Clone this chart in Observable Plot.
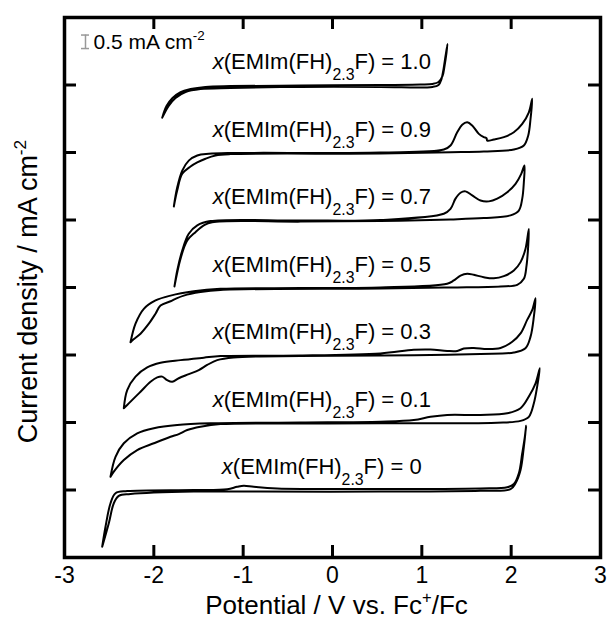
<!DOCTYPE html>
<html><head><meta charset="utf-8">
<script src="https://cdn.jsdelivr.net/npm/d3@7"></script>
<script src="https://cdn.jsdelivr.net/npm/@observablehq/plot@0.6"></script>
<style>html,body{margin:0;padding:0;background:#fff}</style>
</head><body><div id="chart"></div>
<script>
// ---- data (potential in V vs Fc+/Fc, current density in mA cm-2, relative to each trace's baseline) ----
const fractions = ["1.0", "0.9", "0.7", "0.5", "0.3", "0.1", "0"];
const offsets = [17.5, 15, 12.5, 10, 7.5, 5, 2.5]; // vertical shift of each trace, mA cm-2
const xTicks = [-3, -2, -1, 0, 1, 2, 3];
const yTicks = [2.5, 5, 7.5, 10, 12.5, 15, 17.5];
const labelE = -0.12; // potential at which the trace labels are centred
const scaleBarE = -2.765, scaleBarBottom = 18.85, scaleBarLength = 0.5;

const E_10 = [-1.906,-1.858,-1.791,-1.701,-1.589,-1.422,-1.142,-0.358,0.537,0.985,1.120,1.187,1.231,1.254,1.276,1.287,1.265,1.243,1.220,1.187,1.120,0.537,-0.358,-1.142,-1.478,-1.645,-1.757,-1.836,-1.906];
const j_10 = [-1.21,-0.78,-0.48,-0.26,-0.15,-0.07,-0.04,-0.02,0,0.02,0.04,0.11,0.33,0.70,1.19,1.52,1.07,0.59,0.22,0,-0.07,-0.07,-0.07,-0.11,-0.15,-0.26,-0.48,-0.78,-1.21];

const E_09 = [-1.776,-1.738,-1.682,-1.609,-1.514,-1.385,-1.142,0.537,1.246,1.321,1.396,1.452,1.508,1.564,1.638,1.694,1.724,1.732,1.806,1.918,2.030,2.124,2.198,2.236,2.217,2.191,2.142,2.030,1.694,1.321,0.537,-1.142,-1.310,-1.422,-1.514,-1.589,-1.682,-1.738,-1.776];
const j_09 = [-2.00,-1.29,-0.67,-0.30,-0.11,-0.05,-0.02,0,0.11,0.26,0.75,1.03,1.12,1.00,0.69,0.57,0.53,0.44,0.48,0.57,0.75,1.06,1.49,1.99,1.25,0.63,0.26,0.11,0.04,0.01,-0.04,-0.06,-0.11,-0.23,-0.37,-0.52,-0.79,-1.40,-2.00];

const E_07 = [-1.769,-1.738,-1.682,-1.609,-1.514,-1.366,-0.358,0.537,1.246,1.321,1.377,1.433,1.489,1.564,1.657,1.750,1.844,1.956,2.049,2.113,2.149,2.142,2.124,2.086,1.993,1.694,1.321,0.537,-0.358,-1.347,-1.441,-1.534,-1.626,-1.701,-1.769];
const j_07 = [-2.46,-1.87,-1.13,-0.51,-0.20,-0.04,-0.02,0,0.23,0.41,0.79,1.01,1.06,0.91,0.72,0.69,0.79,1.03,1.34,1.71,2.02,1.40,0.79,0.35,0.17,0.07,0.02,-0.04,-0.06,-0.08,-0.20,-0.45,-0.76,-1.43,-2.46];

const E_05 = [-2.261,-2.205,-2.112,-1.981,-1.813,-1.553,-1.254,-0.358,0.537,1.284,1.358,1.433,1.508,1.582,1.694,1.806,1.918,2.030,2.105,2.160,2.198,2.191,2.172,2.142,2.068,1.881,1.321,0.537,-1.254,-1.478,-1.665,-1.757,-1.813,-1.925,-1.981,-2.056,-2.149,-2.242,-2.261];
const j_05 = [-2.03,-1.34,-0.79,-0.48,-0.30,-0.14,-0.05,-0.02,0,0.14,0.26,0.44,0.51,0.47,0.38,0.34,0.42,0.63,0.94,1.43,2.17,1.56,0.81,0.32,0.10,0.04,0,-0.04,-0.09,-0.17,-0.30,-0.42,-0.51,-0.67,-0.97,-1.34,-1.71,-1.96,-2.03];

const E_03 = [-2.336,-2.298,-2.205,-2.074,-1.925,-1.701,-1.441,-1.254,-0.358,0.537,0.910,1.097,1.284,1.396,1.470,1.582,1.732,1.881,2.012,2.105,2.179,2.236,2.273,2.254,2.217,2.160,2.030,1.657,1.097,0.537,-0.358,-1.108,-1.291,-1.403,-1.497,-1.609,-1.721,-1.794,-1.851,-1.906,-1.962,-2.037,-2.149,-2.298,-2.336];
const j_03 = [-1.97,-1.30,-0.80,-0.46,-0.29,-0.19,-0.10,-0.04,-0.02,0.06,0.19,0.20,0.15,0.15,0.24,0.26,0.22,0.26,0.49,0.80,1.30,1.67,2.10,1.42,0.68,0.25,0.09,0.04,0,-0.02,-0.04,-0.09,-0.19,-0.37,-0.56,-0.71,-0.86,-0.99,-0.93,-0.80,-0.83,-0.99,-1.36,-1.85,-1.97];

const E_01 = [-2.485,-2.429,-2.336,-2.186,-2.000,-1.738,-1.366,-0.358,0.537,0.910,1.097,1.284,1.657,1.956,2.105,2.198,2.273,2.321,2.291,2.254,2.198,2.105,1.844,1.284,0.537,-0.358,-1.254,-1.478,-1.626,-1.721,-1.813,-2.000,-2.186,-2.336,-2.448,-2.485];
const j_01 = [-2.01,-1.27,-0.77,-0.40,-0.21,-0.09,-0.03,0,0.03,0.09,0.21,0.28,0.28,0.34,0.53,0.96,1.45,2.01,1.33,0.71,0.21,0.06,-0.01,-0.03,-0.03,-0.04,-0.06,-0.16,-0.28,-0.43,-0.53,-0.77,-1.02,-1.39,-1.82,-2.01];

const E_00 = [-2.578,-2.541,-2.485,-2.429,-2.298,-1.553,-1.179,-1.067,-0.993,-0.881,-0.619,0.537,1.657,1.956,2.030,2.086,2.124,2.153,2.168,2.142,2.105,2.049,1.993,1.657,0.537,-0.806,-1.553,-2.261,-2.392,-2.448,-2.504,-2.578];
const j_00 = [-2.10,-1.36,-0.49,-0.12,-0.04,0,0.03,0.12,0.16,0.12,0.06,0.04,0.06,0.10,0.22,0.62,1.36,1.97,2.38,1.60,0.74,0.25,0.03,-0.03,-0.06,-0.06,-0.06,-0.15,-0.22,-0.49,-1.23,-2.10];

const xLabel = "Potential / V vs. Fc^{+}/Fc";
const yLabel = "Current density / mA cm^{-2}";
const scaleLabel = "0.5 mA cm^{-2}";

// ---- build table ----
const traces = [[E_10, j_10], [E_09, j_09], [E_07, j_07], [E_05, j_05], [E_03, j_03], [E_01, j_01], [E_00, j_00]];
const rows = traces.flatMap(([E, j], k) => E.map((e, i) => ({E: e, y: j[i] + offsets[k], series: fractions[k]})));
const labels = fractions.map((f, k) => ({text: `*x*(EMIm(FH)_{2.3}F) = ${f}`, y: offsets[k]}));

const chart = Plot.plot({
  width: 608, height: 624,
  marginLeft: 64, marginRight: 8, marginTop: 17, marginBottom: 67,
  style: {fontFamily: "'Liberation Sans', Arial, sans-serif", fontSize: "20px", background: "#fff", color: "#000"},
  x: {domain: [-3, 3]},
  y: {domain: [0, 20], axis: null},
  marks: [
    Plot.line(rows, {x: "E", y: "y", z: "series", stroke: "#000", strokeWidth: 2, curve: "catmull-rom"}),
    Plot.text(labels, {x: () => labelE, y: "y", text: "text", dy: -23, fontSize: 22, textAnchor: "middle"}),
    Plot.tickX(xTicks.slice(1, -1), {x: d => d, insetTop: 528, strokeWidth: 3}),
    Plot.tickX(xTicks.slice(1, -1), {x: d => d, insetBottom: 528, strokeWidth: 3}),
    Plot.tickY(yTicks, {y: d => d, insetRight: 524, strokeWidth: 3}),
    Plot.tickY(yTicks, {y: d => d, insetLeft: 524, strokeWidth: 3}),
    Plot.frame({strokeWidth: 3.5}),
    Plot.axisX(xTicks, {tickSize: 0, tickPadding: 9, fontSize: 23, tickFormat: d => String(d), label: null}),
    Plot.text([xLabel], {frameAnchor: "bottom", dy: 56, dx: 4, fontSize: 26, textAnchor: "middle"}),
    Plot.text([yLabel], {frameAnchor: "left", dx: -36, dy: 4, rotate: -90, fontSize: 27, textAnchor: "middle"}),
    Plot.ruleX([scaleBarE], {x: d => d, y1: scaleBarBottom, y2: scaleBarBottom + scaleBarLength, stroke: "#999", strokeWidth: 1.5}),
    Plot.ruleY([scaleBarBottom, scaleBarBottom + scaleBarLength], {y: d => d, x1: scaleBarE, x2: scaleBarE, insetLeft: -4, insetRight: -4, stroke: "#999", strokeWidth: 1.5}),
    Plot.text([scaleLabel], {x: scaleBarE, y: scaleBarBottom + scaleBarLength / 2, dx: 8, textAnchor: "start", fontSize: 21})
  ]
});

// ---- rich text: *italic*, _{sub}, ^{sup} ----
function richify(el) {
  const markup = el.textContent;
  const fs = parseFloat(getComputedStyle(el).fontSize) || 20;
  const parts = markup.split(/(\*[^*]+\*|_\{[^}]*\}|\^\{[^}]*\})/).filter(s => s.length);
  el.textContent = "";
  let shift = 0;
  for (const p of parts) {
    const ts = document.createElementNS("http://www.w3.org/2000/svg", "tspan");
    let txt = p, dyv = -shift;
    shift = 0;
    if (p.startsWith("*")) { txt = p.slice(1, -1); ts.setAttribute("font-style", "italic"); }
    else if (p.startsWith("_{")) { txt = p.slice(2, -1); ts.setAttribute("font-size", (fs * 0.72) + "px"); shift = fs * 0.52; dyv += shift; }
    else if (p.startsWith("^{")) { txt = p.slice(2, -1); ts.setAttribute("font-size", (fs * 0.64) + "px"); shift = -fs * 0.42; dyv += shift; }
    if (dyv) ts.setAttribute("dy", dyv);
    ts.textContent = txt;
    el.appendChild(ts);
  }
}
document.getElementById("chart").appendChild(chart);
chart.querySelectorAll("text").forEach(t => {
  if (/\*|_\{|\^\{/.test(t.textContent)) richify(t);
});
</script>
</body></html>
